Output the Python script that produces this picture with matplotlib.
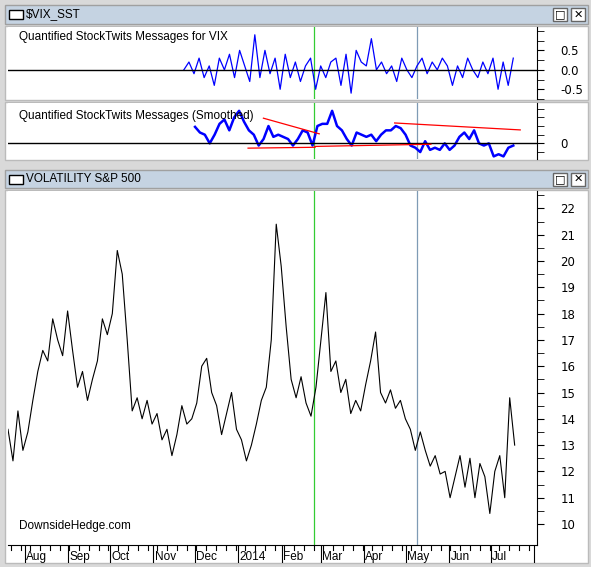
import matplotlib
matplotlib.use("Agg")
import matplotlib.pyplot as plt
import matplotlib.dates as mdates
from matplotlib.patches import Rectangle
import pandas as pd
import numpy as np

vix = [13.6,12.4,14.3,12.8,13.5,14.7,15.8,16.6,16.2,17.8,17.0,16.4,18.1,16.6,15.2,15.8,14.7,15.5,16.2,17.8,
       17.2,18.0,20.4,19.5,17.0,14.3,14.8,14.0,14.7,13.8,14.2,13.2,13.6,12.6,13.4,14.5,13.8,14.0,14.6,16.0,
       16.3,15.0,14.5,13.4,14.2,15.0,13.6,13.2,12.4,13.0,13.8,14.7,15.2,17.0,21.4,19.8,17.5,15.5,14.8,15.6,
       14.6,14.1,15.2,17.0,18.8,15.8,16.2,15.0,15.5,14.2,14.7,14.3,15.3,16.2,17.3,15.0,14.6,15.1,14.4,14.7,
       14.0,13.6,12.8,13.5,12.8,12.2,12.6,11.9,12.0,11.0,11.8,12.6,11.4,12.5,11.0,12.3,11.8,10.4,12.0,12.6,
       11.0,14.8,13.0]
raw = [0.0,0.2,-0.1,0.3,-0.2,0.1,-0.4,0.3,0.0,0.4,-0.2,0.5,0.1,-0.3,0.9,-0.2,0.5,-0.1,0.3,-0.5,
       0.4,-0.2,0.2,-0.3,0.1,0.3,-0.5,0.1,-0.2,0.2,0.3,-0.4,0.4,-0.6,0.5,0.2,0.1,0.8,0.0,0.2,
       -0.1,0.1,-0.3,0.3,0.0,-0.2,0.1,0.3,-0.1,0.2,0.0,0.3,0.1,-0.4,0.1,-0.2,0.3,0.0,-0.2,0.2,
       -0.1,0.3,-0.5,0.2,-0.4,0.3]
smooth = [0.38,0.25,0.2,0.0,0.2,0.45,0.55,0.3,0.6,0.75,0.5,0.3,0.2,-0.05,0.1,0.4,0.15,0.2,0.15,0.1,
          -0.05,0.1,0.3,0.25,-0.05,0.4,0.45,0.45,0.75,0.4,0.3,0.1,-0.05,0.25,0.2,0.15,0.2,0.05,0.2,0.3,
          0.3,0.4,0.35,0.2,-0.05,-0.1,-0.2,0.05,-0.15,-0.1,-0.15,0.0,-0.15,-0.05,0.15,0.25,0.1,0.3,0.0,-0.05,
          0.0,-0.3,-0.25,-0.3,-0.1,-0.05]
trend_lines = [(("2014-01-19",0.58),("2014-02-28",0.22)),
               (("2014-01-08",-0.11),("2014-02-25",-0.09)),
               (("2014-02-25",-0.07),("2014-05-19",-0.02)),
               (("2014-04-23",0.47),("2014-07-22",0.31))]
vlines = [("2014-02-24","#33cc33"),("2014-05-09","#7f9bb5")]
months = pd.date_range("2013-08-01","2014-08-01",freq="MS")
month_labels = ["Aug","Sep","Oct","Nov","Dec","2014","Feb","Mar","Apr","May","Jun","Jul",""]

d_vix = pd.date_range("2013-07-20","2014-07-18",periods=len(vix))
d_raw = pd.date_range("2013-11-23","2014-07-17",periods=len(raw))
d_sm = pd.date_range("2013-12-01","2014-07-17",periods=len(smooth))
xlim = (mdates.date2num(pd.Timestamp("2013-07-20")), mdates.date2num(pd.Timestamp("2014-08-03")))

W,H = 591,567
fig = plt.figure(figsize=(W/100,H/100),dpi=100)
fig.patch.set_facecolor("#d9d9d9")
def ax_px(x0,y0,x1,y1,**kw):
    return fig.add_axes([x0/W,1-y1/H,(x1-x0)/W,(y1-y0)/H],**kw)

bg = ax_px(0,0,W,H); bg.set_axis_off(); bg.set_xlim(0,W); bg.set_ylim(H,0)
for (y0,y1,t) in [(5,24,"$VIX_SST"),(170,188,"VOLATILITY S&P 500")]:
    bg.add_patch(Rectangle((5,y0),583,y1-y0,fc="#c5d3e2",ec="#a0a0a0"))
    bg.add_patch(Rectangle((9,y0+5),14,9,fc="white",ec="black",lw=1))
    bg.text(26,(y0+y1)/2,t,va="center",ha="left",fontsize=8.5,family="Liberation Sans")
    for xx,s in [(553,"□"),(571,"✕")]:
        bg.add_patch(Rectangle((xx,y0+3),14,13,fc="white",ec="#666"))
        bg.text(xx+7,(y0+y1)/2,s,ha="center",va="center",fontsize=8)
for (y0,y1) in [(26,100),(102,160),(190,563)]:
    bg.add_patch(Rectangle((5,y0),583,y1-y0,fc="white",ec="#bbbbbb"))

def style(ax):
    ax.set_xlim(*xlim); ax.set_facecolor("white")
    ax.yaxis.tick_right(); ax.tick_params(axis="y",direction="out",length=5,labelsize=8.5,pad=12)
    for s in ["top","left","bottom"]: ax.spines[s].set_visible(False)
    ax.spines["right"].set_color("black")
    ax.set_xticks([])
    for d,c in vlines:
        ax.axvline(pd.Timestamp(d),color=c,lw=0.9)

a1 = ax_px(8,27,537,99); style(a1)
a1.plot(d_raw,raw,color="blue",lw=0.9)
a1.axhline(0,color="black",lw=1)
a1.set_ylim(-0.75,1.1); a1.set_yticks([-0.5,0,0.5]); a1.set_yticklabels(["-0.5","0.0","0.5"])
a1.set_yticks([-0.75,-0.25,0.25,0.75,1.0],minor=True); a1.tick_params(axis="y",which="minor",length=5,direction="out")
a1.text(0.02,0.82,"Quantified StockTwits Messages for VIX",transform=a1.transAxes,fontsize=8.5,family="Liberation Sans")

a2 = ax_px(8,103,537,159); style(a2)
a2.plot(d_sm,smooth,color="blue",lw=1.8)
a2.axhline(0,color="black",lw=1)
for (d0,v0),(d1,v1) in trend_lines:
    a2.plot([pd.Timestamp(d0),pd.Timestamp(d1)],[v0,v1],color="red",lw=0.9)
a2.set_ylim(-0.36,0.93); a2.set_yticks([0]); a2.set_yticklabels(["0"])
a2.set_yticks([-0.2,0.2,0.4,0.6,0.8],minor=True); a2.tick_params(axis="y",which="minor",length=5,direction="out")
a2.text(0.02,0.72,"Quantified StockTwits Messages (Smoothed)",transform=a2.transAxes,fontsize=8.5,family="Liberation Sans")

a3 = ax_px(8,191,537,545); style(a3)
a3.plot(d_vix,vix,color="black",lw=0.8)
a3.set_ylim((524-545)/26.3+10 - 0.0, 10+(524-191)/26.3)
a3.set_yticks(range(10,23)); a3.set_yticks(np.arange(10.5,22.6,1),minor=True)
a3.tick_params(axis="y",which="minor",length=5,direction="out")
a3.text(0.02,0.045,"DownsideHedge.com",transform=a3.transAxes,fontsize=8.5,family="Liberation Sans")
a3.spines["bottom"].set_visible(True); a3.spines["bottom"].set_color("black")

ad = ax_px(8,545,537,563); ad.set_xlim(*xlim); ad.set_ylim(0,1); ad.set_axis_off()
weeks = pd.date_range("2013-07-22","2014-08-01",freq="W-MON")
for w in weeks:
    ad.plot([w,w],[1,0.7],color="black",lw=0.8)
for m,l in zip(months,month_labels):
    ad.plot([m,m],[1,0.0],color="black",lw=0.8)
    ad.text(mdates.date2num(m)+1,0.35,l,fontsize=8.5,va="center",ha="left",family="Liberation Sans")
fig.savefig("out.png",dpi=100,facecolor=fig.get_facecolor())
